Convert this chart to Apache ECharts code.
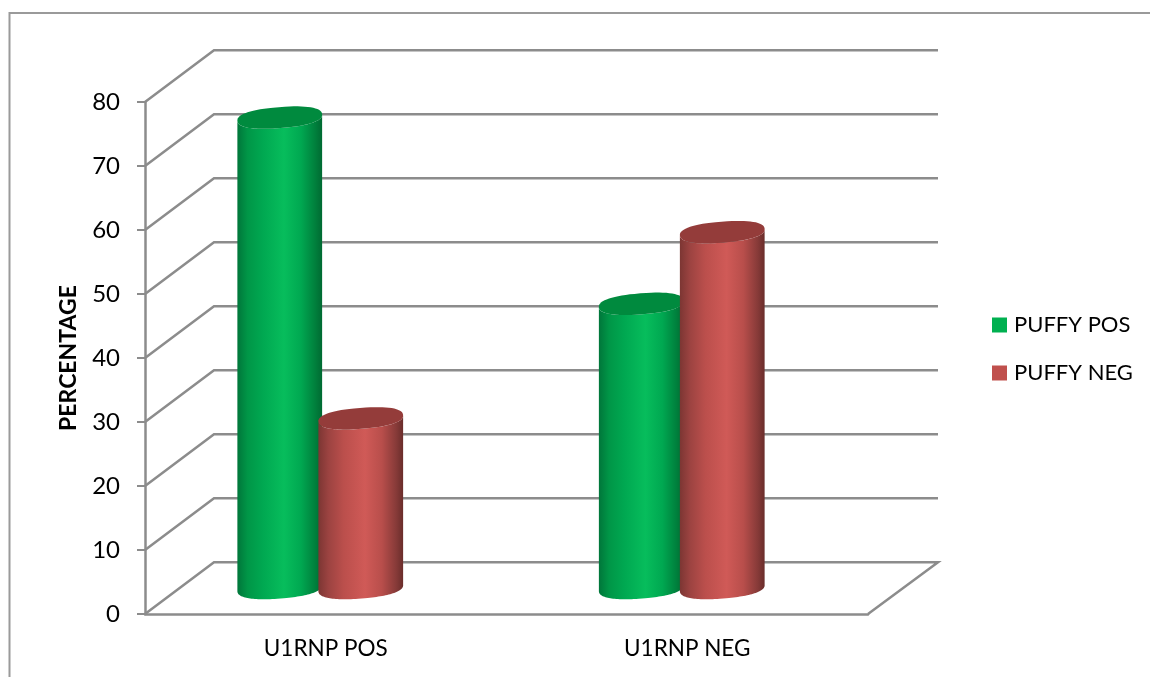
<!DOCTYPE html>
<html>
<head>
<meta charset="utf-8">
<style>html,body{margin:0;padding:0;background:#fff}#chart{width:1150px;height:677px}</style>
<script src="https://cdn.jsdelivr.net/npm/echarts@6/dist/echarts.min.js"></script>
</head>
<body>
<div id="chart"></div>
<script>
// Share of patients by U1RNP status, split by puffy-finger finding.
const categories = ['U1RNP POS', 'U1RNP NEG'];
const puffyPos = [73.5, 44.4];
const puffyNeg = [26.5, 55.6];
const yTicks = [0, 10, 20, 30, 40, 50, 60, 70, 80];

// Oblique projection of the chart box.
const WALL_DX = 69, WALL_DY = -51.7;
const BAR_DY = -26, BAR_SHIFT = -5.5, BAR_SPREAD = 40.5;
const RX = 42.5, RY = 10.5, TILT = -4.5 * Math.PI / 180, ROUNDNESS = 0.85;
const LINE = '#8c8c8c';

function blunt(c) {
  return Math.sign(c) * Math.pow(Math.abs(c), ROUNDNESS);
}
function ellipsePoint(cx, cy, t) {
  const x = RX * blunt(Math.cos(t)), y = RY * blunt(Math.sin(t));
  return [cx + x * Math.cos(TILT) - y * Math.sin(TILT),
          cy + x * Math.sin(TILT) + y * Math.cos(TILT)];
}
function arc(cx, cy, from, to) {
  const pts = [];
  for (let i = 0; i <= 64; i++) pts.push(ellipsePoint(cx, cy, from + (to - from) * i / 64));
  return pts;
}

function cylinder(side, shades, topColor) {
  return function (params, api) {
    const cat = api.value(0);
    const cx = api.coord([cat, 0])[0] + BAR_SHIFT + side * BAR_SPREAD;
    const baseY = api.coord([cat, 0])[1] + BAR_DY;
    const topY = api.coord([cat, api.value(1)])[1] + BAR_DY;
    // Right silhouette, around the lower rim of the base, back up the left silhouette.
    const body = arc(cx, baseY, 0, Math.PI).concat(arc(cx, topY, Math.PI, 0));
    const fill = new echarts.graphic.LinearGradient(0, 0, 1, 0, shades);
    return {
      type: 'group',
      children: [
        { type: 'polygon', shape: { points: body }, style: { fill: fill } },
        { type: 'polygon', shape: { points: arc(cx, topY, 0, Math.PI * 2) }, style: { fill: topColor } }
      ]
    };
  };
}

const greenShades = [
  { offset: 0, color: '#00763a' }, { offset: 0.12, color: '#009647' },
  { offset: 0.3, color: '#00a851' }, { offset: 0.55, color: '#07bd5c' },
  { offset: 0.75, color: '#00a851' }, { offset: 0.92, color: '#007f3c' },
  { offset: 1, color: '#006a32' }
];
const redShades = [
  { offset: 0, color: '#7c3633' }, { offset: 0.12, color: '#9c4341' },
  { offset: 0.3, color: '#bb4f4c' }, { offset: 0.55, color: '#d05a57' },
  { offset: 0.75, color: '#b84e4b' }, { offset: 0.92, color: '#863a38' },
  { offset: 1, color: '#6a2d2b' }
];

const chart = echarts.init(document.getElementById('chart'), null, { renderer: 'canvas' });
chart.setOption({
  animation: false,
  backgroundColor: '#fff',
  textStyle: { fontFamily: 'Lato', color: '#000' },
  graphic: [{
    type: 'polyline', silent: true, z: 0,
    shape: { points: [[9.5, 680], [9.5, 13], [1153, 13]] },
    style: { stroke: '#9a9a9a', lineWidth: 2, fill: 'none' }
  }],
  grid: { left: 145, top: 102, width: 723, height: 512 },
  legend: {
    orient: 'vertical', left: 987, top: 309, itemWidth: 15, itemHeight: 15, itemGap: 26,
    icon: 'rect', data: ['PUFFY POS', 'PUFFY NEG'],
    textStyle: { fontFamily: 'Lato', fontSize: 22, color: '#000', padding: [0, 0, 0, 2] }
  },
  xAxis: {
    type: 'category', data: categories,
    axisLine: { lineStyle: { color: LINE, width: 2.5 } },
    axisTick: { length: 8, lineStyle: { color: LINE, width: 2 } },
    axisLabel: { fontFamily: 'Lato', fontSize: 22.5, color: '#000', margin: 23 }
  },
  yAxis: {
    type: 'value', min: 0, max: 80, interval: 10,
    name: 'PERCENTAGE', nameLocation: 'middle', nameGap: 65,
    nameTextStyle: { fontFamily: 'Lato', fontSize: 23, fontWeight: 'bold', color: '#000' },
    splitLine: { show: false },
    axisLine: { show: true, lineStyle: { color: LINE, width: 2.5 } },
    axisTick: { show: true, length: 8, lineStyle: { color: LINE, width: 2 } },
    axisLabel: { fontFamily: 'Lato', fontSize: 24, color: '#000', margin: 25 }
  },
  series: [
    {
      // Side-wall diagonals and back-wall gridlines, one per y tick.
      type: 'custom', name: 'walls', silent: true, z: 1,
      data: yTicks.map(v => [0, v]),
      renderItem(params, api) {
        const v = api.value(1);
        const p = api.coord([0, v]);
        const x0 = params.coordSys.x, x1 = x0 + params.coordSys.width;
        const pts = [[x0, p[1]], [x0 + WALL_DX, p[1] + WALL_DY], [x1 + WALL_DX + 1, p[1] + WALL_DY]];
        if (v === 0) pts.push([x1, p[1]]);
        return { type: 'polyline', shape: { points: pts }, style: { stroke: LINE, lineWidth: 2.5, fill: 'none' } };
      }
    },
    {
      type: 'custom', name: 'PUFFY POS', z: 3,
      itemStyle: { color: '#00b050' },
      data: puffyPos.map((v, i) => [i, v]),
      renderItem: cylinder(-1, greenShades, '#008a3e')
    },
    {
      type: 'custom', name: 'PUFFY NEG', z: 4,
      itemStyle: { color: '#c0504d' },
      data: puffyNeg.map((v, i) => [i, v]),
      renderItem: cylinder(1, redShades, '#943c3a')
    }
  ]
});
</script>
</body>
</html>
